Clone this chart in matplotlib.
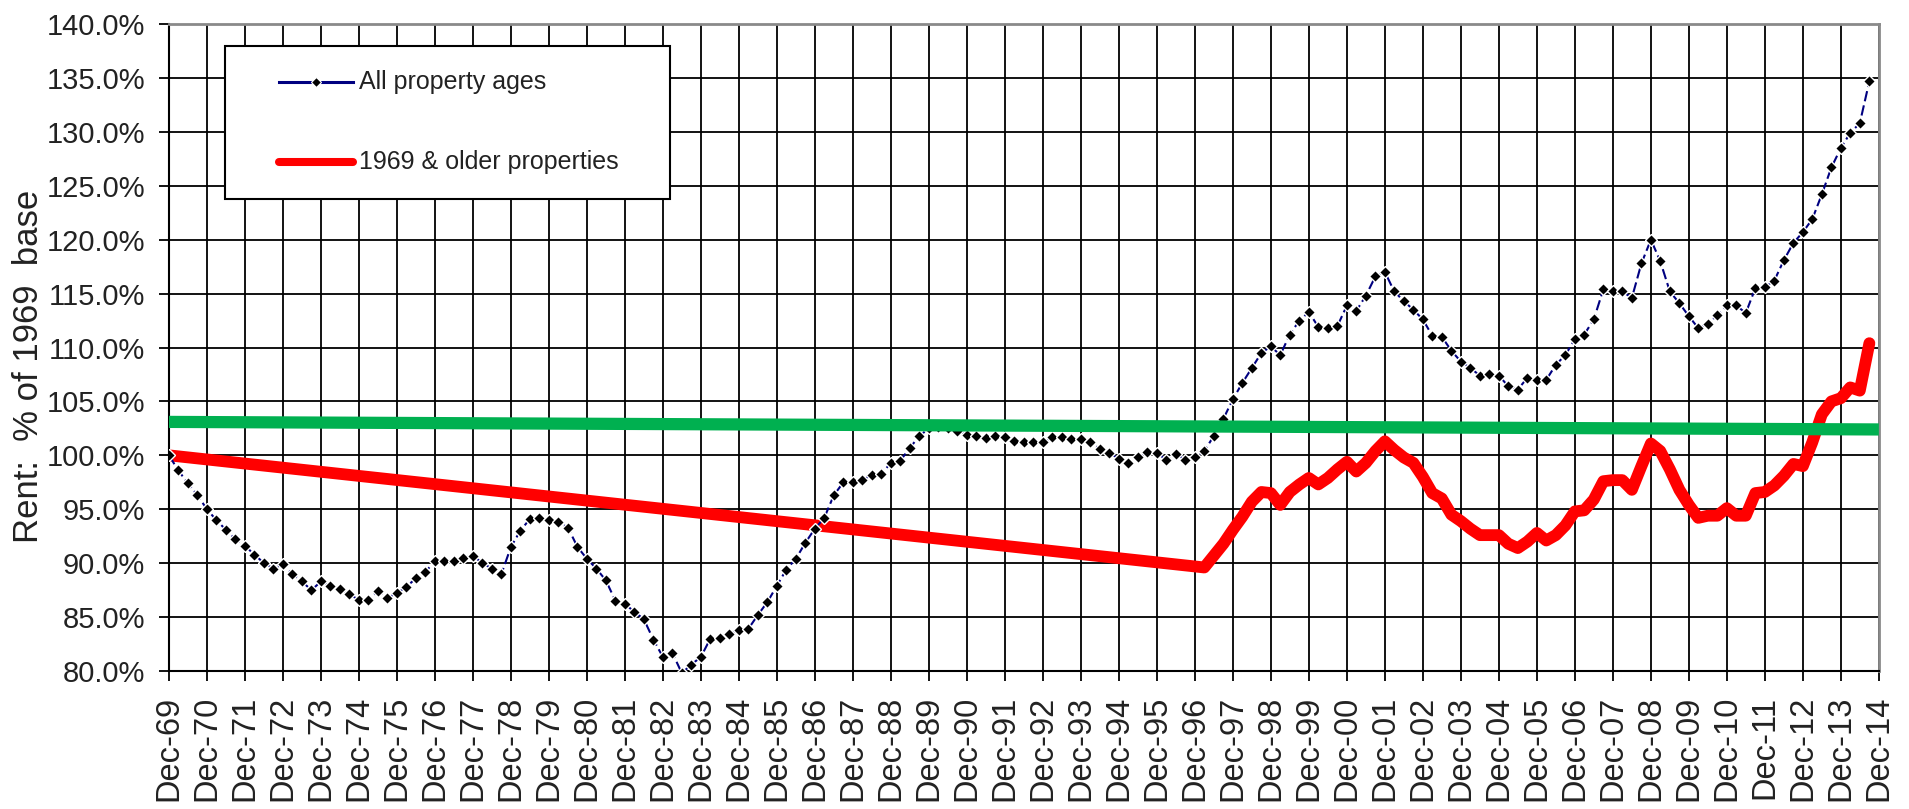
#!/usr/bin/env python
# -*- coding: utf-8 -*-

import pandas as pd
import matplotlib
matplotlib.use('Agg')
import matplotlib.pyplot as plt
from matplotlib.patches import Rectangle

# quarterly rent index, % of the Dec-69 base (Dec-69 .. Sep-14)
all_ages = [
	100.0,
	98.6, 97.4, 96.3, 95.0,   # 1970
	94.0, 93.1, 92.2, 91.6,
	90.8, 90.0, 89.5, 89.9,
	89.0, 88.3, 87.5, 88.3,
	87.9, 87.6, 87.1, 86.6,
	86.6, 87.4, 86.8, 87.2,   # 1975
	87.8, 88.6, 89.2, 90.2,
	90.2, 90.2, 90.5, 90.7,
	90.0, 89.5, 89.0, 91.5,
	93.0, 94.1, 94.2, 94.0,
	93.8, 93.3, 91.5, 90.4,   # 1980
	89.5, 88.4, 86.5, 86.2,
	85.5, 84.8, 82.9, 81.3,
	81.7, 79.8, 80.6, 81.3,
	83.0, 83.1, 83.4, 83.8,
	83.9, 85.2, 86.4, 87.9,   # 1985
	89.4, 90.4, 91.9, 93.2,
	94.2, 96.3, 97.5, 97.5,
	97.7, 98.2, 98.3, 99.3,
	99.5, 100.7, 101.8, 102.5,
	102.6, 102.5, 102.3, 101.9,   # 1990
	101.8, 101.6, 101.8, 101.7,
	101.3, 101.2, 101.2, 101.2,
	101.7, 101.7, 101.5, 101.5,
	101.2, 100.6, 100.2, 99.7,
	99.3, 99.8, 100.3, 100.2,   # 1995
	99.6, 100.1, 99.6, 99.8,
	100.4, 101.8, 103.4, 105.2,
	106.7, 108.1, 109.5, 110.1,
	109.3, 111.2, 112.5, 113.3,
	111.9, 111.8, 112.0, 113.9,   # 2000
	113.4, 114.8, 116.6, 117.0,
	115.2, 114.3, 113.5, 112.6,
	111.1, 111.0, 109.7, 108.7,
	108.1, 107.4, 107.5, 107.4,
	106.4, 106.1, 107.2, 107.0,   # 2005
	107.0, 108.4, 109.3, 110.8,
	111.2, 112.6, 115.4, 115.2,
	115.2, 114.6, 117.8, 120.0,
	118.0, 115.2, 114.1, 112.9,
	111.8, 112.2, 113.0, 113.9,   # 2010
	113.9, 113.2, 115.5, 115.6,
	116.2, 118.1, 119.7, 120.7,
	121.9, 124.2, 126.7, 128.5,
	129.9, 130.8, 134.7,
]

# 1969 & older: Dec-69 base, then quarterly from Mar-97
older_start = ['1969-12-01']
older = [
	100.0,
	89.6, 90.7, 91.8, 93.1,   # 1997
	94.3, 95.7, 96.6, 96.5,
	95.4, 96.6, 97.3, 97.9,
	97.3, 97.9, 98.7, 99.4,   # 2000
	98.5, 99.3, 100.4, 101.3,
	100.5, 99.8, 99.3, 98.0,
	96.5, 96.0, 94.5, 93.9,
	93.2, 92.6, 92.6, 92.6,
	91.8, 91.4, 92.0, 92.8,   # 2005
	92.1, 92.6, 93.5, 94.8,
	94.9, 95.9, 97.6, 97.7,
	97.7, 96.8, 99.0, 101.1,
	100.4, 98.7, 96.8, 95.4,
	94.2, 94.4, 94.4, 95.1,   # 2010
	94.4, 94.4, 96.5, 96.6,
	97.2, 98.1, 99.2, 99.0,
	101.2, 103.8, 105.0, 105.3,
	106.3, 106.0, 110.4,
]

# green reference line
ref_dates = ['1969-12-01', '2014-12-01']
ref_line = [103.1, 102.4]

y_ticks = [80, 85, 90, 95, 100, 105, 110, 115, 120, 125, 130, 135, 140]
legend_labels = ['All property ages', '1969 & older properties']

FONT = 'Liberation Sans'


def main():
	all_x = pd.date_range('1969-12-01', periods=len(all_ages), freq='3MS')
	older_x = list(pd.to_datetime(older_start)) + \
		list(pd.date_range('1997-03-01', periods=len(older) - 1, freq='3MS'))
	ref_x = pd.to_datetime(ref_dates)
	x_ticks = pd.date_range('1969-12-01', '2014-12-01', freq='12MS')

	plt.rcParams['font.family'] = [FONT, 'DejaVu Sans']

	fig = plt.figure(figsize=(19.09, 8.09), dpi=100)
	ax = fig.add_axes([0.0885, 0.1706, 0.8957, 0.7997])

	ax.plot(older_x, older, color='#ff0000', lw=8.5,
		solid_capstyle='round', solid_joinstyle='round', zorder=3)
	ax.plot(all_x, all_ages, color='#000080', lw=1.5, dashes=(5, 2),
		marker='D', ms=6.2, mfc='black', mec='white', mew=1.0, zorder=4)
	ax.plot(ref_x, ref_line, color='#00b050', lw=8.8,
		solid_capstyle='butt', zorder=5)

	ax.set_xlim(x_ticks[0], x_ticks[-1])
	ax.set_ylim(80, 140)
	ax.set_xticks(x_ticks)
	ax.set_xticklabels([d.strftime('%b-%y') for d in x_ticks],
		rotation=90, fontsize=23.5)
	ax.set_yticks(y_ticks)
	ax.set_yticklabels(['{:.1f}%'.format(v) for v in y_ticks], fontsize=21)

	ax.grid(True, color='black', lw=1.3)
	ax.set_axisbelow(True)
	ax.tick_params(axis='both', direction='out', length=7, width=1.3,
		colors='black', labelcolor='#222222')
	ax.tick_params(axis='y', pad=10)
	ax.tick_params(axis='x', pad=11)

	for side in ['left', 'bottom']:
		ax.spines[side].set_color('black')
		ax.spines[side].set_linewidth(1.5)
	for side in ['top', 'right']:
		ax.spines[side].set_color('#8a8a8a')
		ax.spines[side].set_linewidth(2.0)

	ax.set_ylabel('Rent:  % of 1969  base', fontsize=25, color='#222222')
	ax.yaxis.set_label_coords(-0.0725, 0.471)

	# legend box, drawn by hand to get the wide left padding
	tr = ax.transAxes
	ax.add_patch(Rectangle((0.0327, 0.7295), 0.2603, 0.2365, transform=tr,
		facecolor='white', edgecolor='black', lw=1.5, zorder=6))
	ax.plot([0.0643, 0.1076], [0.910, 0.910], transform=tr, color='#000080',
		lw=2.2, zorder=7)
	ax.plot([0.086], [0.910], transform=tr, marker='D', ms=5.0,
		mfc='black', mec='white', mew=0.8, zorder=8)
	ax.plot([0.0643, 0.1076], [0.7867, 0.7867], transform=tr, color='#ff0000',
		lw=5.8, solid_capstyle='round', zorder=7)
	ax.text(0.1111, 0.910, legend_labels[0], transform=tr, fontsize=18,
		va='center', ha='left', color='#222222', zorder=8)
	ax.text(0.1111, 0.7867, legend_labels[1], transform=tr, fontsize=18,
		va='center', ha='left', color='#222222', zorder=8)

	fig.savefig('out.png', dpi=100)


if __name__ == '__main__':
	main()
